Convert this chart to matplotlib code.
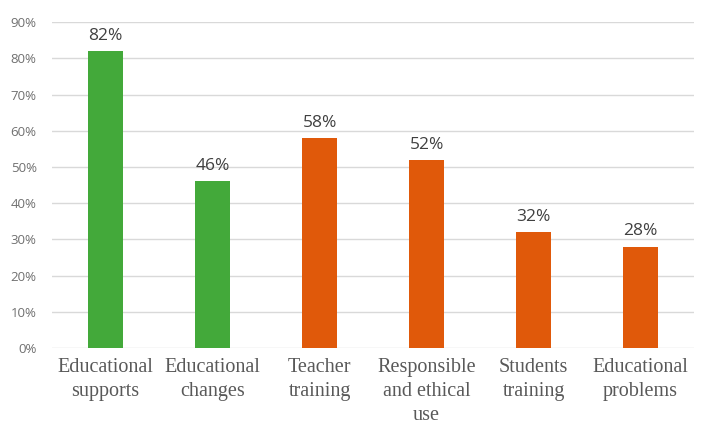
import matplotlib
matplotlib.use("Agg")
import matplotlib.pyplot as plt
from matplotlib.ticker import PercentFormatter, MultipleLocator

categories = ["Educational\nsupports", "Educational\nchanges", "Teacher\ntraining",
              "Responsible\nand ethical\nuse", "Students\ntraining", "Educational\nproblems"]
values = [82, 46, 58, 52, 32, 28]
colors = ["#43A93A", "#43A93A", "#E0590A", "#E0590A", "#E0590A", "#E0590A"]

fig = plt.figure(figsize=(7.01, 4.26), dpi=100)
ax = fig.add_axes([0.0742, 0.183, 0.916, 0.765])

x = list(range(len(categories)))
ax.bar(x, values, width=0.32, color=colors, zorder=3)

for xi, v in zip(x, values):
    ax.text(xi, v + 2.0, f"{v}%", ha="center", va="bottom",
            fontsize=12.5, color="#404040", family="Open Sans")

ax.set_xlim(-0.5, len(categories) - 0.5)
ax.set_ylim(0, 90)
ax.yaxis.set_major_locator(MultipleLocator(10))
ax.yaxis.set_major_formatter(PercentFormatter(decimals=0))
ax.grid(axis="y", color="#D9D9D9", linewidth=1, zorder=0)

for s in ax.spines.values():
    s.set_visible(False)

ax.tick_params(axis="both", length=0)
ax.tick_params(axis="y", labelsize=9.5, labelcolor="#707070", pad=11)
ax.tick_params(axis="x", pad=7)
ax.set_xticks(x)
ax.set_xticklabels(categories)
for lbl in ax.get_xticklabels():
    lbl.set_family("Liberation Serif")
    lbl.set_fontsize(14.5)
    lbl.set_color("#595959")
    lbl.set_linespacing(1.35)
for lbl in ax.get_yticklabels():
    lbl.set_family("Open Sans")

fig.savefig("out.png", dpi=100, facecolor="white")
